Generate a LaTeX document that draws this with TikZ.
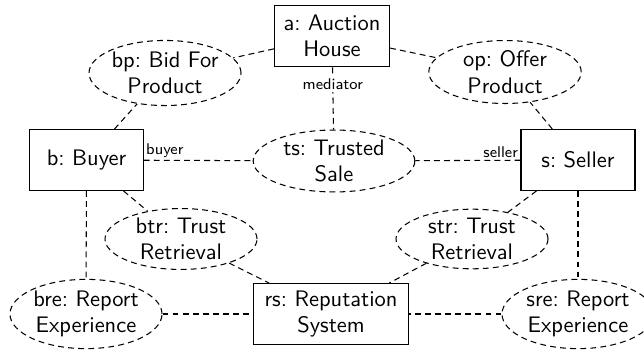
\documentclass[tikz,border=0pt]{standalone}
\usepackage{fontspec}
\usetikzlibrary{shapes.geometric}
\frenchspacing
\tikzset{
  obj/.style={draw, line width=0.5pt, align=center, inner sep=0pt, font=\sffamily\fontsize{10.7}{12.6}\selectfont},
  col/.style={draw, ellipse, dash pattern=on 2.8pt off 2pt, line width=0.5pt, align=center, inner sep=0pt, font=\sffamily\fontsize{10.7}{12.6}\selectfont},
  link/.style={dash pattern=on 2.8pt off 2pt, line width=0.5pt},
  role/.style={font=\sffamily\fontsize{7.4}{9}\selectfont, inner sep=1pt},
}
\begin{document}
\begin{tikzpicture}[x=0.4763pt,y=-0.4763pt]
\useasboundingbox (0,0) rectangle (644,350);
% objects
\node[obj, minimum width=54.8pt, minimum height=29.5pt] (a) at (332,36) {a: Auction\\House};
\node[obj, minimum width=54pt, minimum height=29pt] (b) at (86.5,160) {b: Buyer};
\node[obj, minimum width=54.3pt, minimum height=29pt] (s) at (578,160) {s: Seller};
\node[obj, minimum width=74pt, minimum height=29pt] (rs) at (331,314) {rs: Reputation\\System};
% collaborations
\node[col, minimum width=72.4pt, minimum height=31pt] (bp) at (165,73) {bp: Bid For\\Product};
\node[col, minimum width=72.6pt, minimum height=30pt] (op) at (505,72) {op: Offer\\Product};
\node[col, minimum width=77pt, minimum height=29.5pt] (ts) at (334,161) {ts: Trusted\\Sale};
\node[col, minimum width=72.4pt, minimum height=29pt] (btr) at (181,239) {btr: Trust\\Retrieval};
\node[col, minimum width=72.4pt, minimum height=28pt] (str) at (472,239) {str: Trust\\Retrieval};
\node[col, minimum width=72.4pt, minimum height=33pt] (bre) at (86,314) {bre: Report\\Experience};
\node[col, minimum width=72.4pt, minimum height=33pt] (sre) at (578,314) {sre: Report\\Experience};
% connectors
\draw[link] (a) -- (bp);
\draw[link] (a) -- (op);
\draw[link] (a) -- node[role, pos=0.27, fill=white] (med) {mediator} (ts);
\draw[link] (b) -- (bp);
\draw[link] (s) -- (op);
\draw[link] (b) -- (ts);
\draw[link] (s) -- (ts);
\node[role, anchor=south west] (lbuyer) at (b.east) {buyer};
\node[role, anchor=south east] (lseller) at (s.west) {seller};
\draw[link] (b) -- (btr);
\draw[link] (btr) -- (rs);
\draw[link] (s) -- (str);
\draw[link] (str) -- (rs);
\draw[link] (b) -- (bre);
\draw[link] (s) -- (sre);
\draw[link] (bre) -- (rs);
\draw[link] (sre) -- (rs);
\end{tikzpicture}
\end{document}
